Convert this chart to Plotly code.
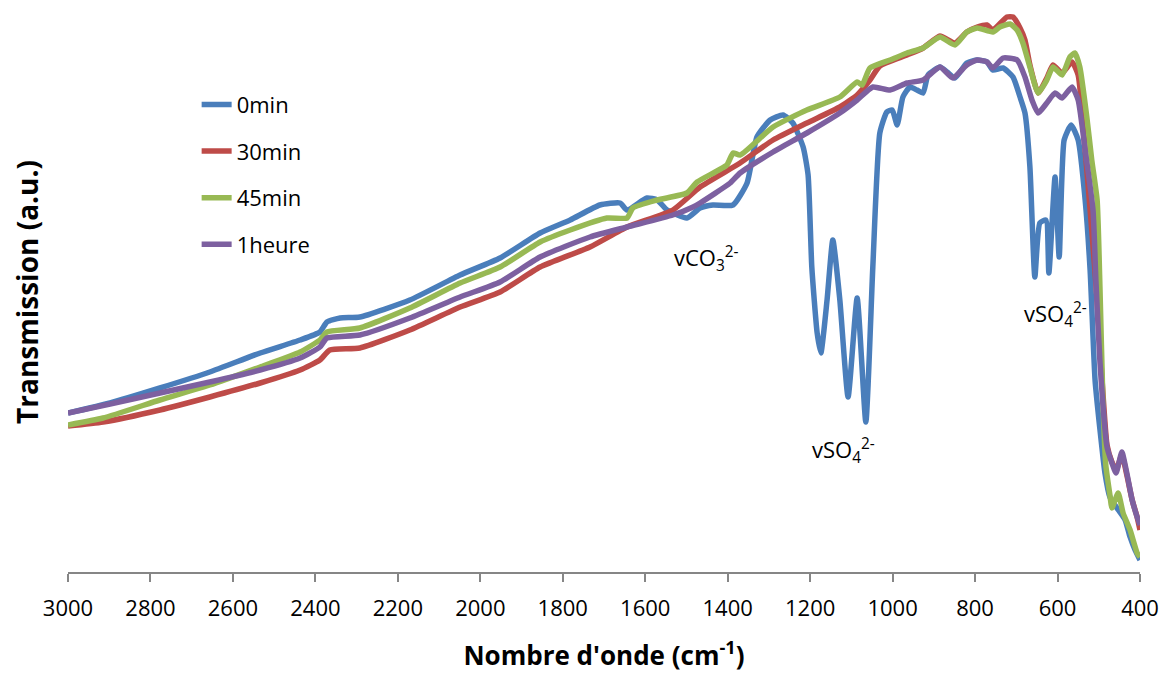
import plotly.graph_objects as go

# ---- data (wavenumber in cm-1, transmission in arbitrary units) ----
series_names = ["0min", "30min", "45min", "1heure"]
series_colors = ["#4A7EBB", "#BE4B48", "#98B954", "#7D60A0"]

wn_0 = [3000, 2898, 2777, 2656, 2534, 2437, 2389, 2372, 2340, 2292, 2171, 2049, 1952, 1855, 1782,
        1710, 1661, 1644, 1596, 1571, 1547, 1499, 1467, 1436, 1387, 1353, 1329, 1297, 1266, 1242,
        1217, 1205, 1196, 1183, 1174, 1159, 1145, 1128, 1108, 1086, 1065, 1048, 1031, 1014, 1001,
        989, 975, 958, 941, 926, 914, 885, 868, 849, 820, 795, 771, 757, 732, 708,
        691, 679, 667, 655, 643, 628, 621, 606, 596, 584, 567, 550, 533, 521, 509,
        497, 485, 473, 461, 449, 436, 424, 412, 400]
t_0 = [31.8, 33.8, 36.8, 40.0, 43.8, 46.4, 48.0, 50.0, 50.8, 51.0, 54.4, 59.4, 62.8, 67.8, 70.4,
       73.4, 73.8, 72.4, 74.8, 74.4, 72.4, 70.8, 72.8, 73.4, 73.4, 77.8, 87.0, 90.4, 91.4, 89.8,
       85.0, 79.4, 61.0, 47.8, 43.8, 54.4, 66.4, 54.4, 35.0, 54.8, 30.0, 61.0, 87.8, 92.0, 92.4,
       89.4, 95.0, 97.0, 96.4, 95.8, 99.4, 101.0, 100.0, 98.8, 101.8, 102.4, 102.0, 100.4, 100.8, 99.0,
       95.0, 91.8, 81.0, 59.0, 69.8, 70.4, 59.8, 79.0, 63.0, 86.4, 89.4, 86.4, 74.4, 60.4, 38.4,
       28.4, 19.8, 15.0, 13.4, 12.0, 10.4, 7.0, 4.4, 2.4]

wn_30 = [3000, 2915, 2777, 2656, 2534, 2437, 2389, 2365, 2292, 2171, 2049, 1952, 1855, 1734, 1644,
         1533, 1467, 1370, 1290, 1208, 1128, 1086, 1055, 1031, 965, 926, 885, 849, 820, 795,
         771, 757, 723, 708, 691, 679, 667, 647, 626, 611, 589, 565, 550, 533, 517,
         504, 492, 480, 468, 458, 444, 432, 419, 407, 400]
t_30 = [29.2, 30.0, 32.4, 35.0, 37.8, 40.4, 42.4, 44.4, 44.8, 48.4, 53.0, 56.0, 61.0, 65.0, 69.0,
        72.4, 77.0, 81.8, 86.4, 89.8, 93.0, 95.4, 98.4, 101.2, 103.4, 104.8, 107.2, 105.8, 108.0, 109.0,
        109.4, 108.4, 111.0, 111.0, 108.8, 106.4, 101.4, 95.8, 98.8, 101.4, 99.8, 102.0, 99.4, 84.4, 68.4,
        54.4, 38.4, 25.4, 22.0, 20.4, 23.4, 19.4, 14.4, 11.0, 8.4]

wn_45 = [3000, 2915, 2777, 2656, 2534, 2437, 2389, 2372, 2292, 2171, 2049, 1952, 1855, 1782, 1693,
         1644, 1630, 1571, 1499, 1474, 1402, 1387, 1370, 1290, 1208, 1128, 1086, 1074, 1055, 1006,
         965, 926, 885, 849, 820, 795, 757, 740, 715, 698, 684, 667, 647, 626, 611,
         589, 570, 558, 546, 529, 517, 504, 497, 490, 483, 473, 468, 453, 441, 424,
         407, 400]
t_45 = [29.4, 30.8, 34.4, 37.4, 41.0, 44.0, 46.4, 48.0, 48.8, 52.8, 57.8, 61.0, 66.0, 68.4, 70.8,
        70.8, 72.8, 74.4, 75.8, 78.0, 81.4, 83.8, 83.4, 89.0, 92.4, 95.0, 98.0, 97.4, 100.8, 102.4,
        103.8, 104.8, 107.0, 105.4, 108.0, 108.8, 108.0, 109.0, 109.6, 108.4, 105.8, 101.0, 95.8, 98.4, 101.0,
        99.4, 103.0, 103.8, 101.0, 91.0, 82.4, 74.4, 56.4, 34.4, 21.4, 15.4, 12.8, 15.8, 11.8, 8.4,
        3.8, 3.0]

wn_60 = [3000, 2898, 2777, 2656, 2534, 2437, 2389, 2372, 2292, 2171, 2049, 1952, 1855, 1734, 1644,
         1533, 1484, 1467, 1394, 1370, 1290, 1208, 1128, 1086, 1048, 1006, 965, 926, 885, 854,
         820, 795, 771, 757, 732, 698, 679, 662, 647, 626, 606, 589, 565, 550, 533,
         514, 507, 497, 480, 468, 458, 444, 432, 419, 407, 400]
t_60 = [31.8, 33.6, 35.8, 38.0, 40.4, 42.8, 45.0, 46.8, 47.4, 50.8, 55.0, 58.0, 63.0, 67.0, 69.0,
        71.4, 73.0, 73.8, 77.8, 79.8, 84.0, 87.8, 91.8, 94.4, 97.0, 96.4, 97.8, 98.4, 101.0, 98.8,
        101.4, 102.4, 102.0, 100.8, 102.8, 102.4, 99.0, 94.4, 91.8, 93.8, 95.8, 94.8, 97.0, 94.4, 84.4,
        72.4, 58.4, 41.8, 25.0, 21.8, 19.8, 24.0, 19.8, 14.4, 11.0, 9.4]

x_ticks = [3000, 2800, 2600, 2400, 2200, 2000, 1800, 1600, 1400, 1200, 1000, 800, 600, 400]

label_texts = ["vCO<sub>3</sub><sup>2-</sup>", "vSO<sub>4</sub><sup>2-</sup>", "vSO<sub>4</sub><sup>2-</sup>"]
label_wn = [1452, 1119, 606]
label_t = [62.8, 24.4, 51.6]

FONT = "Open Sans"

xs = [wn_0, wn_30, wn_45, wn_60]
ys = [t_0, t_30, t_45, t_60]

fig = go.Figure()
for name, color, x, y in zip(series_names, series_colors, xs, ys):
    fig.add_trace(go.Scatter(
        x=x, y=y, mode="lines", name=name, legendgroup=name,
        line=dict(color=color, width=5.5, shape="spline", smoothing=0.5),
    ))

for txt, lx, ly in zip(label_texts, label_wn, label_t):
    fig.add_annotation(x=lx, y=ly, text=txt, showarrow=False,
                       font=dict(family=FONT, size=22, color="black"))

fig.update_layout(
    width=1160, height=667,
    margin=dict(l=60, r=28, t=4, b=103),
    paper_bgcolor="white", plot_bgcolor="white",
    font=dict(family=FONT, color="black"),
    legend=dict(x=0.12, y=0.872, xanchor="left", yanchor="top",
                font=dict(family=FONT, size=22, color="black"),
                bgcolor="rgba(0,0,0,0)", tracegroupgap=15),
    xaxis=dict(
        range=[3000, 400], tickmode="array", tickvals=x_ticks,
        ticktext=[str(v) for v in x_ticks],
        ticks="outside", ticklen=8, tickcolor="#868686", tickwidth=1.5,
        showline=True, linecolor="#868686", linewidth=1.5,
        showgrid=False, zeroline=False, ticklabelstandoff=8,
        tickfont=dict(family=FONT, size=22, color="black"),
        title=dict(text="<b>Nombre d'onde (cm<sup>-1</sup>)</b>", standoff=26,
                   font=dict(family=FONT, size=26, color="black")),
    ),
    yaxis=dict(
        range=[0, 112], showticklabels=False, showgrid=False, zeroline=False,
        showline=False, ticks="",
        title=dict(text="<b>Transmission (a.u.)</b>", standoff=22,
                   font=dict(family=FONT, size=28, color="black")),
    ),
)

fig.write_html("out.html")
